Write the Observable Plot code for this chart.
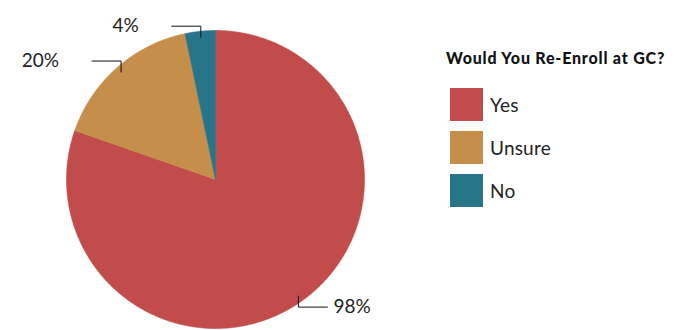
<!DOCTYPE html>
<html>
<head>
<meta charset="utf-8">
<script src="https://cdn.jsdelivr.net/npm/d3@7"></script>
<script src="https://cdn.jsdelivr.net/npm/@observablehq/plot@0.6"></script>
<style>
  html, body { margin: 0; padding: 0; background: #fff; }
  #wrap { position: relative; width: 680px; height: 330px; font-family: Lato, "Noto Sans", sans-serif; }
  #legend { position: absolute; left: 446px; top: 48px; color: #111; }
  #legend .title { font-weight: 900; font-size: 16px; line-height: 19px; letter-spacing: 0.8px; margin-bottom: 21px; white-space: nowrap; }
  #legend .item { display: flex; align-items: center; height: 33px; margin-bottom: 10px; margin-left: 4px; }
  #legend .sw { width: 33px; height: 33px; margin-right: 7px; }
  #legend .lab { font-size: 19px; color: #222; letter-spacing: 0.2px; }
</style>
</head>
<body>
<div id="wrap"></div>
<script>
const categories = ["Yes", "Unsure", "No"];
const values = [98, 20, 4];
const valueLabels = ["98%", "20%", "4%"];
const colors = ["#C24B4C", "#C58F4B", "#287489"];
const legendTitle = "Would You Re-Enroll at GC?";

// geometry helpers (pie in unit radius data space)
const total = d3.sum(values);
let acc = 0;
const slices = categories.map((c, i) => {
  const a0 = acc / total * 2 * Math.PI;
  acc += values[i];
  const a1 = acc / total * 2 * Math.PI;
  return {cat: c, a0, a1, color: colors[i], label: valueLabels[i]};
});

function slicePoints(s) {
  const n = Math.max(8, Math.ceil((s.a1 - s.a0) / (2 * Math.PI) * 720));
  const pts = [{x: 0, y: 0}];
  for (let k = 0; k <= n; k++) {
    const a = s.a0 + (s.a1 - s.a0) * k / n;
    pts.push({x: Math.sin(a), y: Math.cos(a)});
  }
  pts.push({x: 0, y: 0});
  return pts;
}

const leaderPts = [];
const labelPts = [];
slices.forEach(s => {
  const m = (s.a0 + s.a1) / 2;
  const sx = Math.sin(m), cy = Math.cos(m);
  const dirY = cy >= 0 ? 1 : -1;
  const dirX = sx >= 0 ? 1 : -1;
  const A = {x: 0.96 * sx, y: 0.96 * cy};
  const E = {x: A.x, y: A.y + dirY * 0.074};
  const F = {x: E.x + dirX * 0.195, y: E.y};
  [A, E, F].forEach(p => leaderPts.push({...p, cat: s.cat}));
  labelPts.push({x: F.x, y: F.y, text: s.label, side: dirX > 0 ? "right" : "left"});
});

const R = 149, cxp = 215, cyp = 179, W = 680, H = 330;

const marks = slices.map(s => Plot.line(slicePoints(s), {
  x: "x", y: "y", fill: s.color, stroke: s.color, strokeWidth: 0.6, curve: "linear"
}));
marks.push(Plot.line(leaderPts, {x: "x", y: "y", z: "cat", stroke: "#111", strokeWidth: 1}));
marks.push(Plot.text(labelPts.filter(d => d.side === "left"), {
  x: "x", y: "y", text: "text", textAnchor: "end", dx: -33, fontSize: 19, fill: "#222"
}));
marks.push(Plot.text(labelPts.filter(d => d.side === "right"), {
  x: "x", y: "y", text: "text", textAnchor: "start", dx: 6, fontSize: 19, fill: "#222"
}));

const chart = Plot.plot({
  width: W, height: H,
  margin: 0,
  x: {domain: [-cxp / R, (W - cxp) / R], range: [0, W], axis: null},
  y: {domain: [-(H - cyp) / R, cyp / R], range: [H, 0], axis: null},
  style: {fontFamily: "Lato, 'Noto Sans', sans-serif", background: "#fff"},
  marks
});

const wrap = document.getElementById("wrap");
wrap.appendChild(chart);

const legend = document.createElement("div");
legend.id = "legend";
legend.innerHTML = `<div class="title">${legendTitle}</div>` +
  categories.map((c, i) => `<div class="item"><div class="sw" style="background:${colors[i]}"></div><div class="lab">${c}</div></div>`).join("");
wrap.appendChild(legend);
</script>
</body>
</html>
